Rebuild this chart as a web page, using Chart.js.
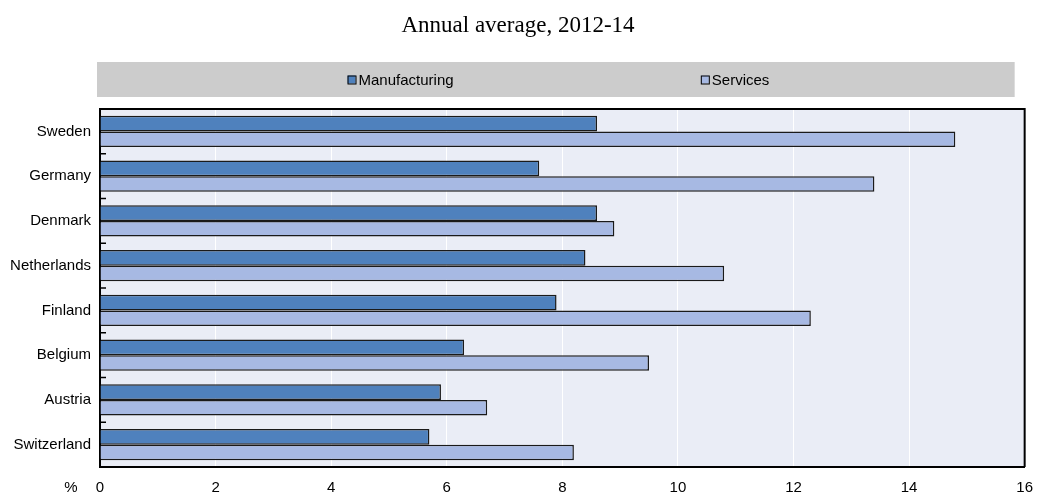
<!DOCTYPE html>
<html>
<head>
<meta charset="utf-8">
<title>Annual average, 2012-14</title>
<script src="https://cdn.jsdelivr.net/npm/chart.js@4/dist/chart.umd.min.js"></script>
<style>
    html, body { margin: 0; padding: 0; background: #fff; }
    #chart-wrap { width: 1045px; height: 496px; position: relative; }
</style>
</head>
<body>
<div id="chart-wrap"><canvas id="sector-chart"></canvas></div>
<script>
// Data
const countries = ['Sweden', 'Germany', 'Denmark', 'Netherlands', 'Finland', 'Belgium', 'Austria', 'Switzerland'];
const manufacturing = [8.6, 7.6, 8.6, 8.4, 7.9, 6.3, 5.9, 5.7];
const services = [14.8, 13.4, 8.9, 10.8, 12.3, 9.5, 6.7, 8.2];
const seriesNames = ['Manufacturing', 'Services'];
const xTicks = [0, 2, 4, 6, 8, 10, 12, 14, 16];
const titleText = 'Annual average, 2012-14';
const unitLabel = '%';

class SectorChart {
    constructor() {
        this.colors = {
            manufacturing: '#4F81BD',
            services: '#A7B9E3',
            plotBg: '#EAEDF6',
            legendBg: '#CCCCCC',
            outline: '#1A1A1A'
        };
        this.font = { family: '"Liberation Sans", Arial, sans-serif', size: 15 };

        this.initializeChart();
    }

    // Plot background, frame, inner ticks, legend strip and unit label
    framePlugin() {
        const self = this;
        return {
            id: 'frameAndLegend',
            beforeDraw(chart) {
                const { ctx, chartArea: a } = chart;
                ctx.save();
                ctx.fillStyle = self.colors.plotBg;
                ctx.fillRect(a.left, a.top, a.right - a.left, a.bottom - a.top);
                ctx.restore();
            },
            afterDraw(chart) {
                const { ctx, chartArea: a } = chart;
                const yScale = chart.scales.y;
                ctx.save();

                // top and right edges
                ctx.strokeStyle = '#000';
                ctx.lineWidth = 2;
                ctx.beginPath();
                ctx.moveTo(a.left, a.top);
                ctx.lineTo(a.right, a.top);
                ctx.lineTo(a.right, a.bottom);
                ctx.stroke();

                // short ticks between categories, inside the plot
                ctx.lineWidth = 1.5;
                for (let i = 1; i < countries.length; i++) {
                    const y = (yScale.getPixelForValue(i - 1) + yScale.getPixelForValue(i)) / 2;
                    ctx.beginPath();
                    ctx.moveTo(a.left, y);
                    ctx.lineTo(a.left + 6, y);
                    ctx.stroke();
                }

                // legend strip
                const box = { left: a.left - 3, right: a.right - 10, top: a.top - 47, bottom: a.top - 12 };
                ctx.fillStyle = self.colors.legendBg;
                ctx.fillRect(box.left, box.top, box.right - box.left, box.bottom - box.top);

                const midY = (box.top + box.bottom) / 2;
                const spots = [0.273, 0.658];
                ctx.font = `${self.font.size}px ${self.font.family}`;
                ctx.textBaseline = 'middle';
                ctx.textAlign = 'left';
                chart.data.datasets.forEach((ds, i) => {
                    const x = box.left + spots[i] * (box.right - box.left);
                    ctx.fillStyle = ds.backgroundColor;
                    ctx.fillRect(x, midY - 4, 8, 8);
                    ctx.lineWidth = 1;
                    ctx.strokeStyle = '#000';
                    ctx.strokeRect(x + 0.5, midY - 3.5, 8, 8);
                    ctx.fillStyle = '#000';
                    ctx.fillText(ds.label, x + 11, midY + 1);
                });

                // unit label left of the x axis
                ctx.textAlign = 'center';
                ctx.fillText(unitLabel, 71, 488);

                ctx.restore();
            }
        };
    }

    // Initialize Chart
    initializeChart() {
        const tickFont = { family: this.font.family, size: this.font.size };

        this.chart = new Chart(
            document.getElementById('sector-chart').getContext('2d'),
            {
                type: 'bar',
                data: {
                    labels: countries,
                    datasets: [
                        {
                            label: seriesNames[0],
                            data: manufacturing,
                            backgroundColor: this.colors.manufacturing,
                            borderColor: this.colors.outline,
                            borderWidth: 1.5
                        },
                        {
                            label: seriesNames[1],
                            data: services,
                            backgroundColor: this.colors.services,
                            borderColor: this.colors.outline,
                            borderWidth: 1.5
                        }
                    ]
                },
                options: {
                    indexAxis: 'y',
                    responsive: true,
                    maintainAspectRatio: false,
                    animation: false,
                    categoryPercentage: 0.7,
                    barPercentage: 1.0,
                    layout: { padding: { left: 0, right: 9, top: 0, bottom: 0 } },
                    plugins: {
                        legend: { display: false },
                        tooltip: { enabled: false },
                        title: {
                            display: true,
                            text: titleText,
                            color: '#000',
                            font: { family: '"Liberation Serif", "Times New Roman", serif', size: 23, weight: 'normal' },
                            padding: { top: 12, bottom: 69.4 }
                        }
                    },
                    scales: {
                        x: {
                            min: xTicks[0],
                            max: xTicks[xTicks.length - 1],
                            ticks: { stepSize: xTicks[1] - xTicks[0], color: '#000', font: tickFont, padding: 12 },
                            grid: { color: '#FFFFFF', lineWidth: 1, drawTicks: false },
                            border: { display: true, color: '#000', width: 2 },
                            afterFit: (scale) => { scale.height = 29; }
                        },
                        y: {
                            ticks: { color: '#000', font: tickFont, padding: 9 },
                            grid: { drawOnChartArea: false, drawTicks: false },
                            border: { display: true, color: '#000', width: 2 },
                            afterFit: (scale) => { scale.width = 100; }
                        }
                    }
                },
                plugins: [this.framePlugin()]
            }
        );
    }
}

// Initialize chart
const sectorChart = new SectorChart();
</script>
</body>
</html>
